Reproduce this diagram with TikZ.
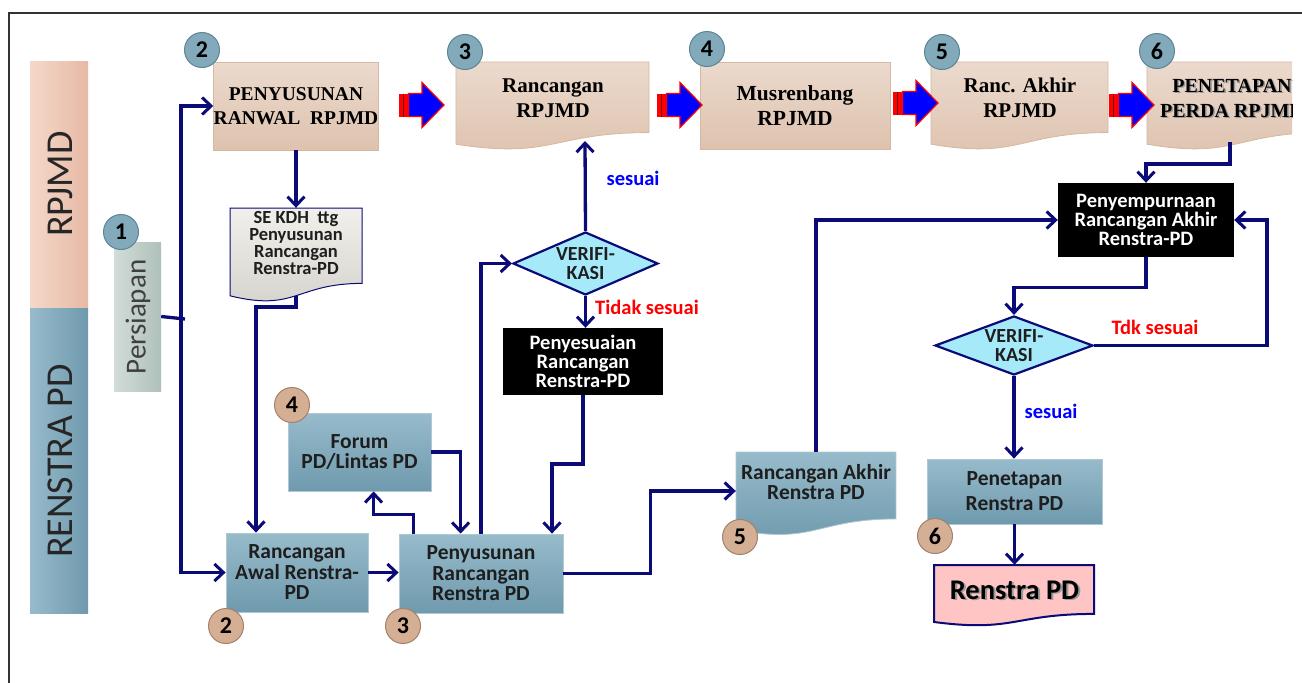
\documentclass[tikz,border=0pt]{standalone}
\usepackage{fontspec}
\setmainfont{Liberation Serif}
\newfontfamily\cb{Carlito}
\usetikzlibrary{arrows.meta,shapes.geometric,calc}
\definecolor{navy}{HTML}{0B0B78}
\definecolor{peachT}{HTML}{EBDACD}
\definecolor{peachB}{HTML}{DEC2AE}
\definecolor{peachD}{HTML}{D6B8A2}
\definecolor{blueT}{HTML}{97BBCB}
\definecolor{blueB}{HTML}{6F9AAD}
\definecolor{blueD}{HTML}{AFC8D3}
\definecolor{numblueF}{HTML}{82AABA}
\definecolor{numblueD}{HTML}{5C8596}
\definecolor{numtanF}{HTML}{D4AF94}
\definecolor{numtanD}{HTML}{A3816A}
\definecolor{diamF}{HTML}{A6EAFA}
\definecolor{pinkF}{HTML}{FFC4C4}
\definecolor{docF}{HTML}{ECE9E2}
\definecolor{persL}{HTML}{D2DCD8}
\definecolor{persR}{HTML}{AFC0BA}
\definecolor{bandRL}{HTML}{F5D8C9}
\definecolor{bandRR}{HTML}{E6B9A5}
\definecolor{txt}{HTML}{1E1E1E}
\newcommand\docshape[5]{%
  \path[#1] (#2,#3) -- (#4,#3) -- (#4,{#3+0.802*#5})
    .. controls ({#2+0.5*(#4-#2)},{#3+0.802*#5}) and ({#2+0.5*(#4-#2)},{#3+1.1075*#5}) ..
    (#2,{#3+0.934*#5}) -- cycle;}
\newcommand\bigarrow[2]{%
  \fill[red] (#1,#2-11.5) rectangle (#1+9.5,#2+11.5);
  \draw[red!45!black, line width=0.8pt] (#1+4.5,#2-11.5) -- (#1+4.5,#2+11.5);
  \draw[red, fill=blue, line width=1.2pt, line join=miter]
    (#1+9.5,#2-11.5) -- (#1+23,#2-11.5) -- (#1+23,#2-22.5) -- (#1+45,#2)
    -- (#1+23,#2+22.5) -- (#1+23,#2+11.5) -- (#1+9.5,#2+11.5) -- cycle;}
\begin{document}
\begin{tikzpicture}[x=1pt,y=-1pt,
  conn/.style={draw=navy, line width=3.3pt},
  arr/.style={conn, -{Straight Barb[length=9pt,width=17pt,line width=3pt]}},
  pbox/.style={rectangle, inner sep=0, top color=peachT, bottom color=peachB, draw=peachD, line width=0.8pt},
  bbox/.style={rectangle, inner sep=0, top color=blueT, bottom color=blueB, draw=blueD, line width=0.8pt,
    align=center, text=txt, font=\cb\bfseries\fontsize{21.5}{20.5}\selectfont},
  kbox/.style={rectangle, inner sep=0, fill=black, align=center, text=white,
    font=\cb\bfseries\fontsize{20.5}{19}\selectfont},
  sertext/.style={align=center, inner sep=0, text=black, font=\bfseries\fontsize{21}{25}\selectfont},
  numblue/.style={circle, minimum size=35pt, inner sep=0, fill=numblueF, draw=numblueD, line width=1pt,
    font=\cb\bfseries\fontsize{24}{24}\selectfont},
  numtan/.style={circle, minimum size=35pt, inner sep=0, fill=numtanF, draw=numtanD, line width=1pt,
    font=\cb\bfseries\fontsize{24}{24}\selectfont},
  diam/.style={diamond, aspect=2.3, minimum width=145pt, minimum height=63pt, inner sep=0,
    fill=diamF, draw=navy, line width=2.2pt, align=center, text=txt,
    font=\cb\bfseries\fontsize{20}{19.5}\selectfont},
  lab/.style={inner sep=0, font=\cb\bfseries\fontsize{20.5}{20}\selectfont},
  bandtext/.style={inner sep=0, text=black!85, font=\cb\fontsize{38}{38}\selectfont}
]
\useasboundingbox (0,0) rectangle (1302,683);
\fill[white] (0,0) rectangle (1302,683);
% frame
\draw[line width=1.5pt, black!80] (9,683) -- (9,13) -- (1302,13);

% side bands
\node[rectangle, inner sep=0, minimum width=58pt, minimum height=247pt,
  left color=bandRL, right color=bandRR] (bandR) at (59,184.5) {};
\node[bandtext, rotate=90] (bandRt) at (60,184) {RPJMD};
\node[rectangle, inner sep=0, minimum width=58pt, minimum height=305pt,
  left color=blueT, right color=blueB] (bandP) at (59,460.5) {};
\node[bandtext, rotate=90] (bandPt) at (60,461) {RENSTRA PD};

% persiapan
\node[rectangle, inner sep=0, minimum width=47pt, minimum height=149pt,
  left color=persL, right color=persR] (persi) at (137.5,316.5) {};
\node[inner sep=0, rotate=90, text=black!75, font=\cb\fontsize{29}{29}\selectfont] (persit) at (138,317) {Persiapan};
\node[numblue] (n1) at (121,232) {1};

% top row
\node[pbox, minimum width=164pt, minimum height=88pt, align=center,
  font=\bfseries\fontsize{19.5}{24}\selectfont] (penyus) at (296,106) {PENYUSUNAN\\RANWAL~~RPJMD};
\node[numblue] (n2a) at (202,50) {2};

\docshape{top color=peachT, bottom color=peachB, draw=peachD, line width=0.8pt}{456}{62}{649}{88}
\node[inner sep=0, minimum width=193pt, minimum height=82pt] (rr) at (552.5,103) {};
\node[sertext] (rrt) at (553,98) {Rancangan\\RPJMD};
\node[numblue] (n3a) at (465,52) {3};
\coordinate (rrw) at (585,141);

\node[pbox, minimum width=190pt, minimum height=87pt, align=center,
  font=\bfseries\fontsize{21.5}{25}\selectfont] (mus) at (795,105.5) {Musrenbang\\RPJMD};
\node[numblue] (n4a) at (707,49) {4};

\docshape{top color=peachT, bottom color=peachB, draw=peachD, line width=0.8pt}{931}{62}{1108}{88}
\node[inner sep=0, minimum width=177pt, minimum height=82pt] (rak) at (1019.5,103) {};
\node[sertext] (rakt) at (1020,98) {Ranc. Akhir\\RPJMD};
\node[numblue] (n5a) at (942,52) {5};

\begin{scope}
\clip (1130,55) rectangle (1292,170);
\docshape{top color=peachT, bottom color=peachB, draw=peachD, line width=0.8pt}{1147}{62}{1324}{88}
\node[sertext, text=black!40, font=\bfseries\fontsize{20}{25}\selectfont] (pent-s) at (1233.5,99.5) {PENETAPAN\\PERDA RPJMD};
\node[sertext, font=\bfseries\fontsize{20}{25}\selectfont] (pent) at (1232,98) {PENETAPAN\\PERDA RPJMD};
\end{scope}
\node[numblue] (n6a) at (1157,51) {6};
\coordinate (pentw) at (1230,142);

\bigarrow{399}{105}
\bigarrow{657}{105}
\bigarrow{893}{103}
\bigarrow{1109}{105}

% SE KDH document
\docshape{top color=docF!70!white, bottom color=docF!90!black, draw=navy, line width=1pt}{230}{208}{362}{94}
\node[inner sep=0, minimum width=132pt, minimum height=88pt] (sekdh) at (296,252) {};
\node[inner sep=0, align=center, text=txt, font=\cb\bfseries\fontsize{18.5}{17}\selectfont] (sekdht) at (296,243)
  {SE KDH~~ttg\\Penyusunan\\Rancangan\\Renstra-PD};

% lower boxes
\node[bbox, minimum width=143pt, minimum height=78pt] (forum) at (359.5,452) {Forum\\PD/Lintas PD};
\node[numtan] (n4b) at (292,405) {4};
\node[bbox, minimum width=142pt, minimum height=79pt] (rawal) at (297,572.5) {Rancangan\\Awal Renstra-\\PD};
\node[numtan] (n2b) at (226,626) {2};
\node[bbox, minimum width=164pt, minimum height=79pt] (pranc) at (481,573.5) {Penyusunan\\Rancangan\\Renstra PD};
\node[numtan] (n3b) at (403,626) {3};

\node[diam] (ver1) at (585.5,263.5) {VERIFI-\\KASI};
\node[kbox, minimum width=160pt, minimum height=67pt] (pyes) at (583,361.5) {Penyesuaian\\Rancangan\\Renstra-PD};

\docshape{top color=blueT, bottom color=blueB, draw=blueD, line width=0.8pt}{736}{452}{896}{83.5}
\node[inner sep=0, minimum width=160pt, minimum height=78pt] (rakhir) at (816,491) {};
\node[inner sep=0, align=center, text=txt, font=\cb\bfseries\fontsize{21.5}{20.5}\selectfont] (rakhirt) at (816,482)
  {Rancangan Akhir\\Renstra PD};
\node[numtan] (n5b) at (740,537) {5};

\node[kbox, minimum width=176pt, minimum height=74pt] (pemp) at (1146,220) {Penyempurnaan\\Rancangan Akhir\\Renstra-PD};
\node[diam, minimum width=158pt, minimum height=59pt, aspect=2.68] (ver2) at (1014,345.5) {VERIFI-\\KASI};
\node[bbox, minimum width=175pt, minimum height=65pt, align=center,
  font=\cb\bfseries\fontsize{21.5}{25}\selectfont] (penet) at (1014.5,491.5) {Penetapan\\Renstra PD};
\node[numtan] (n6b) at (935,536) {6};

\docshape{fill=pinkF, draw=navy, line width=2pt}{934}{565}{1094}{61}
\node[inner sep=0, minimum width=160pt, minimum height=57pt] (renstra) at (1014,593.5) {};
\node[inner sep=0, text=black!40, font=\cb\bfseries\fontsize{28.5}{28}\selectfont] (renstrat-s) at (1016.5,591.5) {Renstra PD};
\node[inner sep=0, text=black, font=\cb\bfseries\fontsize{28.5}{28}\selectfont] (renstrat) at (1014.5,590) {Renstra PD};

% connectors
\coordinate (J) at (181,319);
\draw[conn] (persi.east) -- ($(J)+(4,0)$);
\draw[arr] (J) |- (penyus.west);
\draw[arr] (J) |- (rawal.west);
\draw[arr] (penyus.south) -- (sekdh.north);
\coordinate (c1) at (256,307);
\draw[arr] (sekdh.south) |- (c1) -- (c1 |- rawal.north);
\draw[arr] (rawal.east) -- (pranc.west |- rawal.east);
\draw[arr] (forum.east) -| ($(pranc.north west)+(62,0)$);
\draw[arr] ($(pranc.north west)+(15,0)$) -- ++(0,-19) -| ($(forum.south west)+(86,0)$);
\draw[arr] (pranc.north) |- (ver1.west);
\draw[arr] (ver1.north) -- (rrw);
\node[lab, text=blue] (ses1) at (633,178) {sesuai};
\draw[arr] (ver1.south) -- (ver1.south |- pyes.north);
\node[lab, text=red] (tid1) at (647,307) {Tidak sesuai};
\coordinate (c3) at (552,464);
\draw[arr] (pyes.south) |- (c3) -- (c3 |- pranc.north);
\draw[arr] (pranc.east) -- ++(87,0) |- (rakhir.west);
\draw[arr] (rakhir.north) |- (pemp.west);
\draw[arr] (pentw) -- ++(0,22) -| (pemp.north);
\draw[arr] (pemp.south) -- ++(0,30) -| (ver2.north);
\draw[arr] (ver2.east) -- ++(173,0) |- (pemp.east);
\node[lab, text=red] (tdk2) at (1155,327) {Tdk sesuai};
\draw[arr] (ver2.south) -- (ver2.south |- penet.north);
\node[lab, text=blue] (ses2) at (1051,411) {sesuai};
\draw[arr] (penet.south) -- (penet.south |- renstra.north);
\end{tikzpicture}
\end{document}
